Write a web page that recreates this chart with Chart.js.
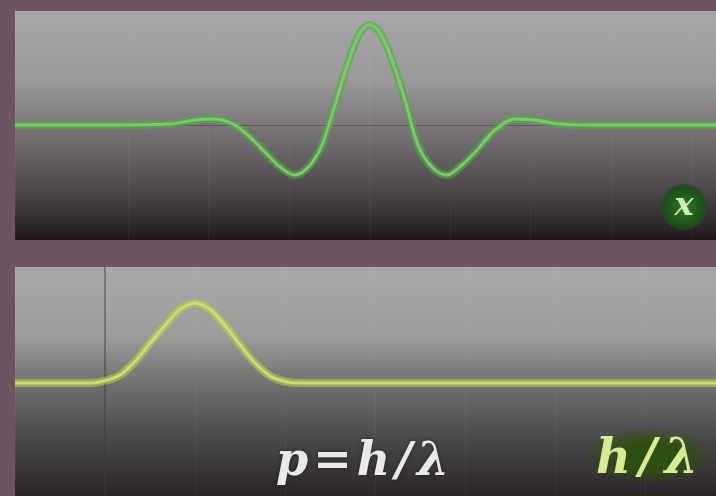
<!DOCTYPE html>
<html>
<head>
<meta charset="utf-8">
<script src="https://cdn.jsdelivr.net/npm/chart.js@4.4.1/dist/chart.umd.min.js"></script>
<style>
  html, body { margin: 0; padding: 0; }
  body { width: 716px; height: 496px; background: #6b5560; position: relative; overflow: hidden; }
  .panel { position: absolute; left: 15px; width: 705px; height: 229px; }
  #topPanel { top: 11px; }
  #bottomPanel { top: 267px; }
  .label { position: absolute; font-family: "DejaVu Serif", serif; font-weight: bold; font-style: italic; white-space: nowrap; }
  #xLabel {
    left: 661px; top: 184px; width: 46px; height: 46px; border-radius: 50%;
    background: radial-gradient(circle, #2f7a2a 0%, #1d4f1a 60%, rgba(20,50,20,0) 100%);
    color: #cdf3b8; font-size: 32px; line-height: 40px; text-align: center;
  }
  #pLabel { left: 276px; top: 432px; color: #e9e9e6; font-size: 46px; letter-spacing: 5px; text-shadow: 0 0 4px #222; }
  #hLabel {
    left: 586px; top: 428px; color: #d9ea95; font-size: 48px; letter-spacing: 8px; padding: 0 6px 0 10px;
    background: radial-gradient(ellipse, rgba(45,80,15,0.95) 30%, rgba(40,60,15,0) 75%);
  }
</style>
</head>
<body>
<div class="panel" id="topPanel"><canvas id="waveChart"></canvas></div>
<div class="panel" id="bottomPanel"><canvas id="momentumChart"></canvas></div>
<div class="label" id="xLabel">x</div>
<div class="label" id="pLabel">p=h/λ</div>
<div class="label" id="hLabel">h/λ</div>
<script>
  // wave packet in position space (x)
  const positions = [-10.14, -7.7, -5.7, -5.0, -4.43, -3.86, -3.43, -3.0, -2.57, -2.14, -1.71, -1.37, -1.0, -0.63, -0.29, 0,
    0.29, 0.63, 1.0, 1.37, 1.77, 2.2, 2.63, 3.06, 3.57, 4.14, 4.71, 5.43, 6.57, 9.89];
  const waveValues = [0, 0, 0.01, 0.05, 0.06, 0.0, -0.12, -0.27, -0.42, -0.5, -0.4, -0.2, 0.2, 0.62, 0.92, 1.0,
    0.92, 0.65, 0.25, -0.2, -0.42, -0.5, -0.4, -0.25, -0.05, 0.06, 0.05, 0.01, 0, 0];

  // momentum distribution (p)
  const momenta = [-3, -0.5, 0, 0.5, 1.0, 1.5, 2.0, 2.5, 3.0, 3.5, 4.0, 4.5, 5.0, 5.5, 6.0, 6.5, 20.4];
  const momentumValues = [0, 0, 0.03, 0.1, 0.27, 0.5, 0.72, 0.92, 1.0, 0.92, 0.72, 0.48, 0.25, 0.09, 0.02, 0, 0];

  function toPoints(xs, ys) {
    return xs.map((x, i) => ({ x: x, y: ys[i] }));
  }

  // gradient panel background behind the chart area
  const panelBackground = {
    id: "panelBackground",
    beforeDraw(chart, args, opts) {
      const { ctx, chartArea } = chart;
      const g = ctx.createLinearGradient(0, chartArea.top, 0, chartArea.bottom);
      opts.stops.forEach(s => g.addColorStop(s[0], s[1]));
      ctx.save();
      ctx.fillStyle = g;
      ctx.fillRect(chartArea.left, chartArea.top, chartArea.right - chartArea.left, chartArea.bottom - chartArea.top);
      ctx.restore();
    }
  };

  function makeChart(canvasId, points, xRange, yRange, step, colors, stops) {
    return new Chart(document.getElementById(canvasId), {
      type: "line",
      data: {
        datasets: [
          { data: points, borderColor: colors.glow, borderWidth: 8, pointRadius: 0, cubicInterpolationMode: "monotone" },
          { data: points, borderColor: colors.core, borderWidth: 3, pointRadius: 0, cubicInterpolationMode: "monotone" }
        ]
      },
      options: {
        responsive: true,
        maintainAspectRatio: false,
        animation: false,
        layout: { padding: 0 },
        plugins: { legend: { display: false }, tooltip: { enabled: false }, panelBackground: { stops: stops } },
        scales: {
          x: {
            type: "linear", min: xRange[0], max: xRange[1],
            ticks: { display: false, stepSize: step },
            border: { display: false },
            grid: {
              drawTicks: false,
              lineWidth: ctx => (ctx.tick && ctx.tick.value === 0 ? 2 : 1),
              color: ctx => (ctx.tick && ctx.tick.value === 0 ? colors.zeroLine : "rgba(255,255,255,0.035)")
            }
          },
          y: {
            min: yRange[0], max: yRange[1],
            ticks: { display: false, stepSize: 5 },
            border: { display: false },
            grid: { drawTicks: false, color: ctx => (ctx.tick && ctx.tick.value === 0 ? colors.baseLine : "rgba(0,0,0,0)") }
          }
        }
      },
      plugins: [panelBackground]
    });
  }

  makeChart("waveChart", toPoints(positions, waveValues), [-10.14, 10.0], [-1.15, 1.14], 2.3,
    { glow: "rgba(80,175,65,0.6)", core: "#c2ebae", zeroLine: "rgba(255,255,255,0.03)", baseLine: "rgba(40,30,35,0.35)" },
    [[0, "#a9a7a9"], [0.3, "#9a989a"], [0.5, "#7b777a"], [0.8, "#4a4548"], [0.95, "#2b2427"], [1, "#20161b"]]);

  makeChart("momentumChart", toPoints(momenta, momentumValues), [-3, 20.5], [-1.41, 1.45], 3,
    { glow: "rgba(185,205,75,0.6)", core: "#e6f0b8", zeroLine: "rgba(60,60,60,0.45)", baseLine: "rgba(0,0,0,0)" },
    [[0, "#a9a9a8"], [0.3, "#9c9d9b"], [0.5, "#737371"], [0.75, "#4b494b"], [1, "#2a2529"]]);
</script>
</body>
</html>
